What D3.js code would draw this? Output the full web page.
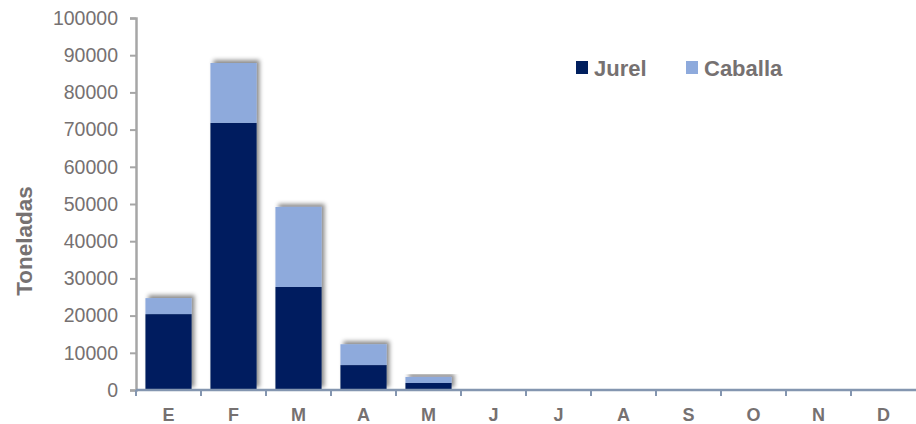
<!DOCTYPE html>
<html>
<head>
<meta charset="utf-8">
<script src="https://cdn.jsdelivr.net/npm/d3@7"></script>
<style>
  body { margin: 0; background: #fff; }
  text { font-family: "Liberation Sans", Arial, sans-serif; }
</style>
</head>
<body>
<script>
// months and catch (toneladas)
var months = ['E', 'F', 'M', 'A', 'M', 'J', 'J', 'A', 'S', 'O', 'N', 'D'];
var jurel = [20400, 71800, 27700, 6700, 1900, 0, 0, 0, 0, 0, 0, 0];
var caballa = [4300, 16100, 21500, 5600, 1600, 0, 0, 0, 0, 0, 0, 0];
var yTicks = [0, 10000, 20000, 30000, 40000, 50000, 60000, 70000, 80000, 90000, 100000];

var width = 916, height = 424;
var margin = {top: 18, right: 0, bottom: 34, left: 136};

var svg = d3.select('body').append('svg')
    .attr('width', width)
    .attr('height', height);

var defs = svg.append('defs');
var f = defs.append('filter').attr('id', 'shadow')
    .attr('x', '-20%').attr('y', '-20%').attr('width', '140%').attr('height', '140%');
f.append('feDropShadow')
    .attr('dx', 3).attr('dy', -3)
    .attr('stdDeviation', 2)
    .attr('flood-color', '#000')
    .attr('flood-opacity', 0.45);

var x = d3.scaleBand()
    .domain(d3.range(months.length))
    .range([margin.left, width - margin.right])
    .paddingInner(0.29)
    .paddingOuter(0.145);

var y = d3.scaleLinear()
    .domain([0, 100000])
    .range([height - margin.bottom, margin.top]);

var data = months.map(function(m, i) {
    return {i: i, jurel: jurel[i], caballa: caballa[i]};
});

var bars = svg.append('g').selectAll('g')
    .data(data.filter(function(d) { return d.jurel + d.caballa > 0; }))
    .enter().append('g')
    .attr('filter', 'url(#shadow)');

bars.append('rect')
    .attr('x', function(d) { return x(d.i); })
    .attr('width', x.bandwidth())
    .attr('y', function(d) { return y(d.jurel); })
    .attr('height', function(d) { return y(0) - y(d.jurel); })
    .attr('fill', '#001f5e');

bars.append('rect')
    .attr('x', function(d) { return x(d.i); })
    .attr('width', x.bandwidth())
    .attr('y', function(d) { return y(d.jurel + d.caballa); })
    .attr('height', function(d) { return y(d.jurel) - y(d.jurel + d.caballa); })
    .attr('fill', '#8eaadc');

// y axis
var yAxis = svg.append('g')
    .attr('transform', 'translate(' + margin.left + ',0)')
    .call(d3.axisLeft(y).tickValues(yTicks).tickSize(6).tickPadding(12).tickFormat(d3.format('d')));
yAxis.select('.domain').attr('stroke', '#a6a6a6').attr('stroke-width', 2.5);
yAxis.selectAll('.tick line').attr('stroke', '#a6a6a6').attr('stroke-width', 2);
yAxis.selectAll('.tick text')
    .attr('fill', '#767171')
    .style('font-size', '19.5px');

// x axis
var step = x.step();
var xAxis = svg.append('g')
    .attr('transform', 'translate(0,' + y(0) + ')');
xAxis.append('line')
    .attr('x1', margin.left).attr('x2', width)
    .attr('stroke', '#8496b0').attr('stroke-width', 2.5);
xAxis.selectAll('.xt')
    .data(d3.range(months.length))
    .enter().append('line')
    .attr('x1', function(i) { return margin.left + i * step; })
    .attr('x2', function(i) { return margin.left + i * step; })
    .attr('y1', 0).attr('y2', 6)
    .attr('stroke', '#8496b0').attr('stroke-width', 2);
xAxis.selectAll('.xl')
    .data(months)
    .enter().append('text')
    .attr('x', function(d, i) { return x(i) + x.bandwidth() / 2; })
    .attr('y', 31)
    .attr('text-anchor', 'middle')
    .attr('fill', '#767171')
    .style('font-size', '18px')
    .style('font-weight', 'bold')
    .text(function(d) { return d; });

// y label
svg.append('text')
    .attr('transform', 'translate(32,241) rotate(-90)')
    .attr('text-anchor', 'middle')
    .attr('fill', '#767171')
    .style('font-size', '22.5px')
    .style('font-weight', 'bold')
    .text('Toneladas');

// legend
var legend = [{name: 'Jurel', color: '#001f5e', x: 576}, {name: 'Caballa', color: '#8eaadc', x: 686}];
var lg = svg.append('g').selectAll('g')
    .data(legend)
    .enter().append('g')
    .attr('transform', function(d) { return 'translate(' + d.x + ',61)'; });
lg.append('rect')
    .attr('width', 12).attr('height', 13)
    .attr('fill', function(d) { return d.color; });
lg.append('text')
    .attr('x', 18).attr('y', 15)
    .attr('fill', '#767171')
    .style('font-size', '22px')
    .style('font-weight', 'bold')
    .text(function(d) { return d.name; });
</script>
</body>
</html>
